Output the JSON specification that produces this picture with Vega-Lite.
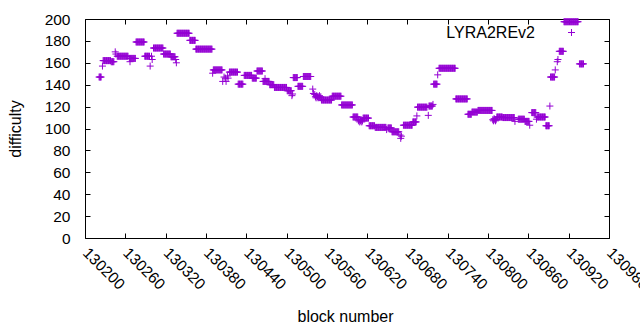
{
"$schema": "https://vega.github.io/schema/vega-lite/v6.json",
"width": 524, "height": 219,
"autosize": {"type": "none"},
"padding": {"left": 85, "top": 19, "right": 31, "bottom": 92},
"background": "white",
"config": {"view": {"stroke": "black", "strokeWidth": 1}, "font": "Liberation Sans",
 "axis": {"grid": false, "domain": false, "labelFont": "Liberation Sans", "titleFont": "Liberation Sans", "labelFontSize": 15.5, "titleFontSize": 16, "titleFontWeight": "normal", "labelColor": "black", "titleColor": "black", "tickColor": "black", "tickSize": -5, "labelOverlap": false, "labelFlush": false, "labelBound": false}},
"data": {"values": [
{"b":130221,"d":147},{"b":130222,"d":147},{"b":130223,"d":147},{"b":130224,"d":147},
{"b":130226,"d":157},
{"b":130227,"d":162},{"b":130228,"d":162},{"b":130229,"d":162},{"b":130230,"d":162},{"b":130231,"d":162},{"b":130232,"d":162},{"b":130233,"d":162},{"b":130234,"d":162},{"b":130235,"d":162},{"b":130236,"d":162},{"b":130237,"d":162},{"b":130238,"d":162},
{"b":130239,"d":161},{"b":130240,"d":161},{"b":130241,"d":161},{"b":130242,"d":161},{"b":130243,"d":161},
{"b":130245,"d":170},{"b":130246,"d":168},
{"b":130248,"d":166},{"b":130249,"d":166},{"b":130250,"d":166},{"b":130251,"d":166},{"b":130252,"d":166},{"b":130253,"d":166},{"b":130254,"d":166},{"b":130255,"d":166},{"b":130256,"d":166},{"b":130257,"d":166},{"b":130258,"d":166},{"b":130259,"d":166},{"b":130260,"d":166},{"b":130261,"d":166},{"b":130262,"d":166},{"b":130263,"d":166},{"b":130264,"d":166},
{"b":130266,"d":164},{"b":130267,"d":164},{"b":130267,"d":161},{"b":130268,"d":164},{"b":130269,"d":164},{"b":130270,"d":164},{"b":130271,"d":164},{"b":130272,"d":164},{"b":130273,"d":164},{"b":130274,"d":164},{"b":130275,"d":164},
{"b":130276,"d":179},{"b":130277,"d":179},{"b":130278,"d":179},{"b":130279,"d":179},{"b":130280,"d":179},{"b":130281,"d":179},{"b":130282,"d":179},{"b":130283,"d":179},{"b":130284,"d":179},{"b":130285,"d":179},{"b":130286,"d":179},{"b":130287,"d":179},{"b":130288,"d":179},
{"b":130289,"d":166},{"b":130290,"d":166},{"b":130291,"d":166},{"b":130292,"d":166},{"b":130293,"d":166},{"b":130294,"d":166},{"b":130295,"d":166},{"b":130296,"d":166},
{"b":130297,"d":157},
{"b":130299,"d":166},{"b":130300,"d":163},
{"b":130302,"d":173.5},{"b":130303,"d":173.5},{"b":130304,"d":173.5},{"b":130305,"d":173.5},{"b":130306,"d":173.5},{"b":130307,"d":173.5},{"b":130308,"d":173.5},{"b":130309,"d":173.5},{"b":130310,"d":173.5},{"b":130311,"d":173.5},{"b":130312,"d":173.5},{"b":130313,"d":173.5},{"b":130314,"d":173.5},{"b":130315,"d":173.5},{"b":130316,"d":173.5},
{"b":130317,"d":168},{"b":130318,"d":168},{"b":130319,"d":168},{"b":130320,"d":168},{"b":130321,"d":168},{"b":130322,"d":168},{"b":130323,"d":168},{"b":130324,"d":168},{"b":130325,"d":168},{"b":130326,"d":168},{"b":130327,"d":168},
{"b":130328,"d":165.5},{"b":130329,"d":165.5},{"b":130330,"d":165.5},{"b":130331,"d":165.5},{"b":130332,"d":165.5},{"b":130333,"d":165.5},{"b":130334,"d":165.5},
{"b":130335,"d":163},{"b":130336,"d":160},
{"b":130337,"d":187},{"b":130338,"d":187},{"b":130339,"d":187},{"b":130340,"d":187},{"b":130341,"d":187},{"b":130342,"d":187},{"b":130343,"d":187},{"b":130344,"d":187},{"b":130345,"d":187},{"b":130346,"d":187},{"b":130347,"d":187},{"b":130348,"d":187},{"b":130349,"d":187},{"b":130350,"d":187},{"b":130351,"d":187},{"b":130352,"d":187},{"b":130353,"d":187},{"b":130354,"d":187},{"b":130355,"d":187},
{"b":130356,"d":180.5},{"b":130357,"d":180.5},{"b":130358,"d":180.5},{"b":130359,"d":180.5},{"b":130360,"d":180.5},{"b":130361,"d":180.5},{"b":130362,"d":180.5},{"b":130363,"d":180.5},{"b":130364,"d":180.5},
{"b":130365,"d":172.5},{"b":130366,"d":172.5},{"b":130367,"d":172.5},{"b":130368,"d":172.5},{"b":130369,"d":172.5},{"b":130370,"d":172.5},{"b":130371,"d":172.5},{"b":130372,"d":172.5},{"b":130373,"d":172.5},{"b":130374,"d":172.5},{"b":130375,"d":172.5},{"b":130376,"d":172.5},{"b":130377,"d":172.5},{"b":130378,"d":172.5},{"b":130379,"d":172.5},{"b":130380,"d":172.5},{"b":130381,"d":172.5},{"b":130382,"d":172.5},{"b":130383,"d":172.5},{"b":130384,"d":172.5},{"b":130385,"d":172.5},{"b":130386,"d":172.5},{"b":130387,"d":172.5},{"b":130388,"d":172.5},{"b":130389,"d":172.5},
{"b":130390,"d":150.5},
{"b":130391,"d":153.5},{"b":130392,"d":153.5},{"b":130393,"d":153.5},{"b":130394,"d":153.5},{"b":130395,"d":153.5},{"b":130396,"d":153.5},{"b":130397,"d":153.5},{"b":130398,"d":153.5},{"b":130399,"d":153.5},{"b":130400,"d":153.5},{"b":130401,"d":153.5},{"b":130402,"d":153.5},{"b":130403,"d":153.5},{"b":130404,"d":153.5},
{"b":130405,"d":143},{"b":130407,"d":147},{"b":130409,"d":146},{"b":130410,"d":143},{"b":130412,"d":148},{"b":130413,"d":146},
{"b":130415,"d":151.5},{"b":130416,"d":151.5},{"b":130417,"d":151.5},{"b":130418,"d":151.5},{"b":130419,"d":151.5},{"b":130420,"d":151.5},{"b":130421,"d":151.5},{"b":130422,"d":151.5},{"b":130423,"d":151.5},{"b":130424,"d":151.5},{"b":130425,"d":151.5},{"b":130426,"d":151.5},{"b":130427,"d":151.5},
{"b":130428,"d":140.5},{"b":130429,"d":140.5},{"b":130430,"d":140.5},{"b":130431,"d":140.5},{"b":130432,"d":140.5},{"b":130433,"d":140.5},{"b":130434,"d":140.5},{"b":130435,"d":140.5},
{"b":130437,"d":148.5},{"b":130438,"d":148.5},{"b":130439,"d":148.5},{"b":130440,"d":148.5},{"b":130441,"d":148.5},{"b":130442,"d":148.5},{"b":130443,"d":148.5},{"b":130444,"d":148.5},{"b":130445,"d":148.5},{"b":130446,"d":148.5},{"b":130447,"d":148.5},{"b":130448,"d":148.5},
{"b":130449,"d":146},{"b":130450,"d":146},{"b":130451,"d":146},{"b":130452,"d":146},{"b":130453,"d":146},{"b":130454,"d":146},{"b":130455,"d":146},
{"b":130456,"d":152.5},{"b":130457,"d":152.5},{"b":130458,"d":152.5},{"b":130459,"d":152.5},{"b":130460,"d":152.5},{"b":130461,"d":152.5},{"b":130462,"d":152.5},{"b":130463,"d":152.5},{"b":130464,"d":152.5},
{"b":130465,"d":143},{"b":130466,"d":143},{"b":130467,"d":143},{"b":130468,"d":143},{"b":130468,"d":145.5},{"b":130469,"d":143},{"b":130470,"d":143},{"b":130471,"d":143},{"b":130472,"d":143},{"b":130473,"d":143},{"b":130474,"d":143},
{"b":130475,"d":140},{"b":130476,"d":140},{"b":130477,"d":140},{"b":130478,"d":140},{"b":130479,"d":140},{"b":130480,"d":140},{"b":130481,"d":140},
{"b":130482,"d":137.5},{"b":130483,"d":137.5},{"b":130484,"d":137.5},{"b":130485,"d":137.5},{"b":130486,"d":137.5},{"b":130487,"d":137.5},{"b":130488,"d":137.5},{"b":130489,"d":137.5},{"b":130490,"d":137.5},{"b":130491,"d":137.5},{"b":130492,"d":137.5},{"b":130493,"d":137.5},{"b":130494,"d":137.5},{"b":130495,"d":137.5},{"b":130496,"d":137.5},{"b":130497,"d":137.5},{"b":130498,"d":137.5},{"b":130499,"d":137.5},{"b":130500,"d":137.5},
{"b":130501,"d":134.5},{"b":130502,"d":134.5},{"b":130503,"d":134.5},{"b":130504,"d":134.5},{"b":130505,"d":134.5},{"b":130506,"d":134.5},{"b":130507,"d":134.5},
{"b":130508,"d":130},{"b":130509,"d":131.5},
{"b":130510,"d":146.5},{"b":130511,"d":146.5},{"b":130512,"d":146.5},{"b":130513,"d":146.5},{"b":130514,"d":146.5},{"b":130515,"d":146.5},{"b":130516,"d":146.5},
{"b":130517,"d":138.5},{"b":130518,"d":138.5},{"b":130519,"d":138.5},{"b":130520,"d":138.5},{"b":130521,"d":138.5},{"b":130522,"d":138.5},{"b":130523,"d":138.5},{"b":130524,"d":138.5},
{"b":130525,"d":147.5},{"b":130526,"d":147.5},{"b":130527,"d":147.5},{"b":130528,"d":147.5},{"b":130529,"d":147.5},{"b":130530,"d":147.5},{"b":130531,"d":147.5},{"b":130532,"d":147.5},{"b":130533,"d":147.5},{"b":130534,"d":147.5},{"b":130535,"d":147.5},{"b":130536,"d":147.5},
{"b":130539,"d":136},{"b":130540,"d":132},
{"b":130542,"d":131},{"b":130543,"d":129},{"b":130544,"d":128},{"b":130545,"d":130},{"b":130546,"d":129},{"b":130547,"d":128},{"b":130548,"d":129},{"b":130549,"d":130},{"b":130550,"d":128},{"b":130551,"d":129},
{"b":130552,"d":126},{"b":130553,"d":126},{"b":130554,"d":126},{"b":130555,"d":126},{"b":130556,"d":126},{"b":130557,"d":126},{"b":130558,"d":126},{"b":130559,"d":126},{"b":130560,"d":126},{"b":130561,"d":126},{"b":130562,"d":126},{"b":130563,"d":126},{"b":130564,"d":126},{"b":130565,"d":126},{"b":130566,"d":126},{"b":130567,"d":126},
{"b":130568,"d":129.5},{"b":130569,"d":129.5},{"b":130570,"d":129.5},{"b":130571,"d":129.5},{"b":130572,"d":129.5},{"b":130573,"d":129.5},{"b":130574,"d":129.5},{"b":130575,"d":129.5},{"b":130576,"d":129.5},{"b":130577,"d":129.5},{"b":130578,"d":129.5},{"b":130579,"d":129.5},{"b":130580,"d":129.5},{"b":130581,"d":129.5},
{"b":130582,"d":121.5},{"b":130583,"d":121.5},{"b":130584,"d":121.5},{"b":130585,"d":121.5},{"b":130586,"d":121.5},{"b":130587,"d":121.5},{"b":130588,"d":121.5},{"b":130589,"d":121.5},{"b":130590,"d":121.5},{"b":130591,"d":121.5},{"b":130592,"d":121.5},{"b":130593,"d":121.5},{"b":130594,"d":121.5},{"b":130595,"d":121.5},{"b":130596,"d":121.5},{"b":130597,"d":121.5},{"b":130598,"d":121.5},
{"b":130599,"d":110.5},{"b":130600,"d":110.5},{"b":130601,"d":110.5},{"b":130602,"d":110.5},{"b":130603,"d":110.5},{"b":130604,"d":110.5},{"b":130605,"d":110.5},{"b":130606,"d":110.5},
{"b":130607,"d":107},{"b":130608,"d":108},{"b":130609,"d":106},{"b":130610,"d":107},{"b":130611,"d":108},{"b":130612,"d":106},{"b":130613,"d":107},
{"b":130614,"d":109.5},{"b":130615,"d":109.5},{"b":130616,"d":109.5},{"b":130617,"d":109.5},{"b":130618,"d":109.5},{"b":130619,"d":109.5},{"b":130620,"d":109.5},{"b":130621,"d":109.5},{"b":130622,"d":109.5},
{"b":130623,"d":102.5},{"b":130624,"d":102.5},{"b":130625,"d":102.5},{"b":130626,"d":102.5},{"b":130627,"d":102.5},{"b":130628,"d":102.5},{"b":130629,"d":102.5},{"b":130630,"d":102.5},{"b":130631,"d":102.5},
{"b":130632,"d":101},{"b":130633,"d":101},{"b":130634,"d":101},{"b":130635,"d":101},{"b":130636,"d":101},{"b":130637,"d":101},{"b":130638,"d":101},{"b":130639,"d":101},{"b":130640,"d":101},{"b":130641,"d":101},{"b":130642,"d":101},{"b":130643,"d":101},{"b":130644,"d":101},{"b":130645,"d":101},{"b":130646,"d":101},{"b":130647,"d":101},{"b":130648,"d":101},
{"b":130649,"d":99},
{"b":130651,"d":100.5},{"b":130652,"d":100.5},{"b":130653,"d":100.5},{"b":130654,"d":100.5},{"b":130655,"d":100.5},{"b":130656,"d":100.5},
{"b":130657,"d":97},{"b":130658,"d":97},{"b":130659,"d":97},{"b":130660,"d":97},{"b":130661,"d":97},{"b":130662,"d":97},{"b":130663,"d":97},{"b":130664,"d":97},{"b":130665,"d":97},{"b":130666,"d":97},{"b":130667,"d":97},
{"b":130669,"d":94},{"b":130670,"d":91},{"b":130671,"d":93},
{"b":130674,"d":103},{"b":130675,"d":103},{"b":130676,"d":103},{"b":130677,"d":103},{"b":130678,"d":103},{"b":130679,"d":103},{"b":130680,"d":103},{"b":130681,"d":103},{"b":130682,"d":103},{"b":130683,"d":103},{"b":130684,"d":103},{"b":130685,"d":103},{"b":130686,"d":103},{"b":130687,"d":103},
{"b":130688,"d":106},{"b":130689,"d":106},{"b":130690,"d":106},{"b":130691,"d":106},{"b":130692,"d":106},{"b":130693,"d":106},
{"b":130694,"d":111.5},
{"b":130695,"d":119.5},{"b":130696,"d":119.5},{"b":130697,"d":119.5},{"b":130698,"d":119.5},{"b":130699,"d":119.5},{"b":130700,"d":119.5},{"b":130701,"d":119.5},{"b":130702,"d":119.5},{"b":130703,"d":119.5},{"b":130704,"d":119.5},{"b":130705,"d":119.5},{"b":130706,"d":119.5},{"b":130707,"d":119.5},{"b":130708,"d":119.5},{"b":130709,"d":119.5},
{"b":130711,"d":112},
{"b":130712,"d":120.5},{"b":130713,"d":120.5},{"b":130714,"d":120.5},{"b":130715,"d":120.5},{"b":130716,"d":120.5},{"b":130717,"d":120.5},{"b":130718,"d":122},
{"b":130719,"d":140.5},{"b":130720,"d":140.5},{"b":130721,"d":140.5},{"b":130722,"d":140.5},{"b":130723,"d":140.5},{"b":130724,"d":140.5},
{"b":130725,"d":149},
{"b":130727,"d":155},{"b":130728,"d":155},{"b":130729,"d":155},{"b":130730,"d":155},{"b":130731,"d":155},{"b":130732,"d":155},{"b":130733,"d":155},{"b":130734,"d":155},{"b":130735,"d":155},{"b":130736,"d":155},{"b":130737,"d":155},{"b":130738,"d":155},{"b":130739,"d":155},{"b":130740,"d":155},{"b":130741,"d":155},{"b":130742,"d":155},{"b":130743,"d":155},{"b":130744,"d":155},{"b":130745,"d":155},{"b":130746,"d":155},{"b":130747,"d":155},{"b":130748,"d":155},{"b":130749,"d":155},{"b":130750,"d":155},{"b":130751,"d":155},
{"b":130752,"d":127},{"b":130753,"d":127},{"b":130754,"d":127},{"b":130755,"d":127},{"b":130756,"d":127},{"b":130757,"d":127},{"b":130758,"d":127},{"b":130759,"d":127},{"b":130760,"d":127},{"b":130761,"d":127},{"b":130762,"d":127},{"b":130763,"d":127},{"b":130764,"d":127},{"b":130765,"d":127},{"b":130766,"d":127},{"b":130767,"d":127},{"b":130768,"d":127},{"b":130769,"d":127},
{"b":130770,"d":113},{"b":130771,"d":113},{"b":130772,"d":113},{"b":130773,"d":113},{"b":130774,"d":113},{"b":130775,"d":113},
{"b":130776,"d":115},{"b":130777,"d":115},{"b":130778,"d":115},{"b":130779,"d":115},{"b":130780,"d":115},{"b":130781,"d":115},{"b":130782,"d":115},{"b":130783,"d":115},{"b":130784,"d":115},
{"b":130785,"d":116.5},{"b":130786,"d":116.5},{"b":130787,"d":116.5},{"b":130788,"d":116.5},{"b":130789,"d":116.5},{"b":130790,"d":116.5},{"b":130791,"d":116.5},{"b":130792,"d":116.5},{"b":130793,"d":116.5},{"b":130794,"d":116.5},{"b":130795,"d":116.5},{"b":130796,"d":116.5},{"b":130797,"d":116.5},{"b":130798,"d":116.5},{"b":130799,"d":116.5},{"b":130800,"d":116.5},{"b":130801,"d":116.5},{"b":130802,"d":116.5},{"b":130803,"d":116.5},{"b":130804,"d":116.5},{"b":130805,"d":116.5},{"b":130806,"d":116.5},
{"b":130807,"d":108},{"b":130808,"d":107},{"b":130809,"d":109},{"b":130810,"d":108},{"b":130811,"d":107},{"b":130812,"d":108},
{"b":130813,"d":110.5},{"b":130814,"d":110.5},{"b":130815,"d":110.5},{"b":130816,"d":110.5},{"b":130817,"d":110.5},{"b":130818,"d":110.5},{"b":130819,"d":110.5},{"b":130820,"d":110.5},{"b":130821,"d":110.5},
{"b":130822,"d":110},{"b":130823,"d":110},{"b":130824,"d":110},{"b":130825,"d":110},{"b":130826,"d":110},{"b":130827,"d":110},{"b":130828,"d":110},{"b":130829,"d":110},{"b":130830,"d":110},{"b":130831,"d":110},{"b":130832,"d":110},{"b":130833,"d":110},{"b":130834,"d":110},{"b":130835,"d":110},{"b":130836,"d":110},{"b":130837,"d":110},{"b":130838,"d":110},{"b":130839,"d":110},
{"b":130840,"d":106.5},
{"b":130845,"d":108.5},{"b":130846,"d":108.5},{"b":130847,"d":108.5},{"b":130848,"d":108.5},{"b":130849,"d":108.5},{"b":130850,"d":108.5},{"b":130851,"d":108.5},{"b":130852,"d":108.5},{"b":130853,"d":108.5},{"b":130854,"d":108.5},
{"b":130855,"d":106.5},{"b":130856,"d":106.5},{"b":130857,"d":106.5},{"b":130858,"d":106.5},{"b":130859,"d":106.5},{"b":130860,"d":106.5},{"b":130861,"d":106.5},
{"b":130862,"d":103},
{"b":130865,"d":114.5},{"b":130866,"d":114.5},{"b":130867,"d":114.5},{"b":130868,"d":114.5},{"b":130869,"d":114.5},{"b":130870,"d":114.5},{"b":130871,"d":114.5},
{"b":130872,"d":108.5},
{"b":130873,"d":110.5},{"b":130874,"d":110.5},{"b":130875,"d":110.5},{"b":130876,"d":110.5},{"b":130877,"d":110.5},{"b":130878,"d":110.5},{"b":130879,"d":110.5},{"b":130880,"d":110.5},{"b":130881,"d":110.5},{"b":130882,"d":110.5},{"b":130883,"d":110.5},{"b":130884,"d":110.5},{"b":130885,"d":110.5},
{"b":130886,"d":102.5},{"b":130887,"d":102.5},{"b":130888,"d":102.5},{"b":130889,"d":102.5},{"b":130890,"d":102.5},{"b":130891,"d":102.5},
{"b":130892,"d":120.5},
{"b":130893,"d":147},{"b":130894,"d":147},{"b":130895,"d":147},{"b":130896,"d":147},{"b":130897,"d":147},{"b":130898,"d":147},{"b":130899,"d":147},
{"b":130900,"d":153.5},
{"b":130903,"d":161},{"b":130904,"d":163},
{"b":130906,"d":170.5},{"b":130907,"d":170.5},{"b":130908,"d":170.5},{"b":130909,"d":170.5},{"b":130910,"d":170.5},{"b":130911,"d":170.5},{"b":130912,"d":170.5},
{"b":130913,"d":197.5},{"b":130914,"d":197.5},{"b":130915,"d":197.5},{"b":130916,"d":197.5},{"b":130917,"d":197.5},{"b":130918,"d":197.5},{"b":130919,"d":197.5},{"b":130920,"d":197.5},{"b":130921,"d":197.5},{"b":130922,"d":197.5},{"b":130923,"d":197.5},{"b":130924,"d":197.5},{"b":130925,"d":197.5},{"b":130926,"d":197.5},{"b":130927,"d":197.5},{"b":130928,"d":197.5},{"b":130929,"d":197.5},{"b":130930,"d":197.5},{"b":130931,"d":197.5},{"b":130932,"d":197.5},{"b":130933,"d":197.5},{"b":130934,"d":197.5},
{"b":130936,"d":159},{"b":130937,"d":159},{"b":130938,"d":159},{"b":130939,"d":159},{"b":130940,"d":159},{"b":130941,"d":159},{"b":130942,"d":159}
]},
"layer": [
 {"mark": {"type": "point", "shape": "M-1,0H1M0,-1V1", "filled": false, "strokeWidth": 1, "size": 49, "opacity": 1},
  "encoding": {
   "x": {"field": "b", "type": "quantitative", "scale": {"domain": [130200, 130980], "nice": false, "zero": false},
     "axis": {"orient": "bottom", "values": [130200,130260,130320,130380,130440,130500,130560,130620,130680,130740,130800,130860,130920,130980], "format": "d", "labelAngle": 45, "labelAlign": "left", "labelBaseline": "top", "labelPadding": 12, "labelOffset": 5, "title": "block number", "titleX": 260, "titleY": 83, "titleBaseline": "alphabetic"}},
   "y": {"field": "d", "type": "quantitative", "scale": {"domain": [0, 200], "nice": false},
     "axis": {"orient": "left", "values": [0,20,40,60,80,100,120,140,160,180,200], "labelPadding": 20, "title": "difficulty", "titleX": -70, "titleY": 109.5, "titleAngle": -90, "titleAlign": "center", "titleBaseline": "middle"}},
   "color": {"datum": "LYRA2REv2", "scale": {"range": ["#9400D3"]},
     "legend": {"title": null, "orient": "none", "legendX": 478.5, "legendY": 5.5, "padding": 0, "labelFontSize": 16, "labelFont": "Liberation Sans", "labelColor": "black", "labelAlign": "right", "labelOffset": -44.5, "symbolType": "M-1,0H1M0,-1V1", "symbolSize": 49, "symbolStrokeWidth": 1, "symbolStrokeColor": "#9400D3", "symbolFillColor": "transparent"}}
  }},
 {"mark": {"type": "point", "opacity": 0},
  "encoding": {
   "x": {"field": "b", "type": "quantitative", "axis": {"orient": "top", "values": [130200,130260,130320,130380,130440,130500,130560,130620,130680,130740,130800,130860,130920,130980], "labels": false, "title": null}},
   "y": {"field": "d", "type": "quantitative", "axis": {"orient": "right", "values": [0,20,40,60,80,100,120,140,160,180,200], "labels": false, "title": null}}
  }}
],
"resolve": {"axis": {"x": "independent", "y": "independent"}}
}
